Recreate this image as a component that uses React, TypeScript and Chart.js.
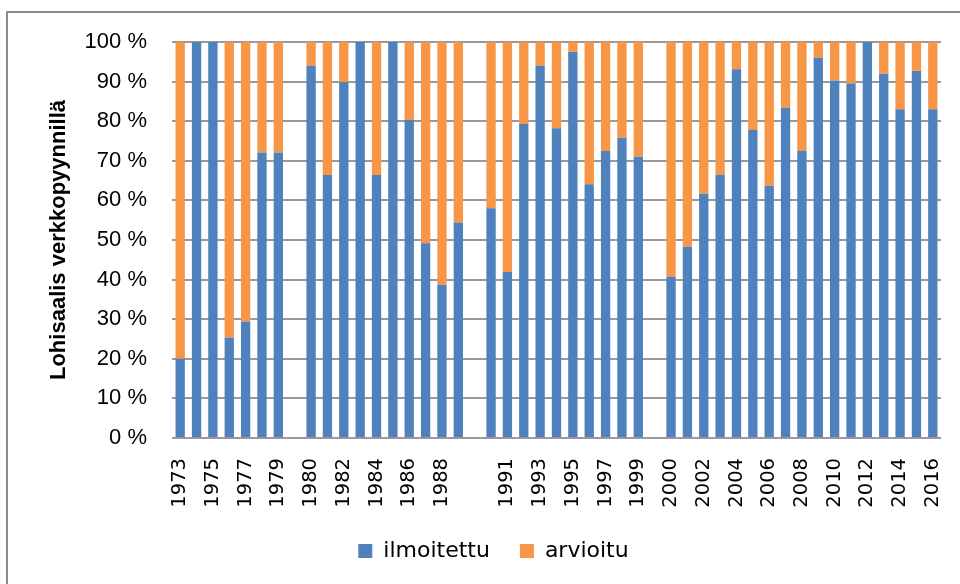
import React, { useEffect, useRef } from "react";
import { Chart, registerables } from "chart.js";

Chart.register(...registerables);

const years: string[] = [
  "1973", "1974", "1975", "1976", "1977", "1978", "1979", "",
  "1980", "1981", "1982", "1983", "1984", "1985", "1986", "1987", "1988", "1989", "",
  "1990", "1991", "1992", "1993", "1994", "1995", "1996", "1997", "1998", "1999", "",
  "2000", "2001", "2002", "2003", "2004", "2005", "2006", "2007", "2008", "2009",
  "2010", "2011", "2012", "2013", "2014", "2015", "2016",
];

const ilmoitettu: (number | null)[] = [
  20, 100, 100, 25.4, 29.4, 72.1, 72.1, null,
  94, 66.4, 89.9, 100, 66.4, 100, 80.3, 49.2, 38.7, 54.4, null,
  58, 41.9, 79.3, 94, 78.2, 97.5, 64.1, 72.5, 75.8, 71, null,
  40.7, 48.3, 61.7, 66.5, 93.1, 77.8, 63.7, 83.4, 72.5, 96,
  90.3, 89.5, 100, 92, 83, 92.7, 83,
];

const arvioitu: (number | null)[] = [
  80, 0, 0, 74.6, 70.6, 27.9, 27.9, null,
  6, 33.6, 10.1, 0, 33.6, 0, 19.7, 50.8, 61.3, 45.6, null,
  42, 58.1, 20.7, 6, 21.8, 2.5, 35.9, 27.5, 24.2, 29, null,
  59.3, 51.7, 38.3, 33.5, 6.9, 22.2, 36.3, 16.6, 27.5, 4,
  9.7, 10.5, 0, 8, 17, 7.3, 17,
];

const seriesNames = ["ilmoitettu", "arvioitu"];
const yTitle = "Lohisaalis verkkopyynnillä";

const frame = {
  id: "frame",
  beforeDraw(chart: any) {
    const ctx = chart.ctx;
    ctx.save();
    ctx.fillStyle = "#ffffff";
    ctx.fillRect(0, 0, chart.width, chart.height);
    ctx.strokeStyle = "#8c8c8c";
    ctx.lineWidth = 2;
    ctx.beginPath();
    ctx.moveTo(7, chart.height + 5);
    ctx.lineTo(7, 12);
    ctx.lineTo(chart.width + 5, 12);
    ctx.stroke();
    ctx.restore();
  },
};

export default function App() {
  const ref = useRef<HTMLCanvasElement>(null);

  useEffect(() => {
    if (!ref.current) return;
    const chart = new Chart(ref.current, {
      type: "bar",
      data: {
        labels: years,
        datasets: [
          {
            label: seriesNames[0],
            data: ilmoitettu,
            backgroundColor: "#4F81BD",
            barPercentage: 0.57,
            categoryPercentage: 1,
          },
          {
            label: seriesNames[1],
            data: arvioitu,
            backgroundColor: "#F79646",
            barPercentage: 0.57,
            categoryPercentage: 1,
          },
        ],
      },
      options: {
        responsive: false,
        animation: false,
        layout: { padding: { left: 46, right: 19, top: 42, bottom: 12 } },
        plugins: {
          legend: {
            position: "bottom",
            labels: {
              boxWidth: 14,
              boxHeight: 14,
              padding: 30,
              color: "#000",
              font: { family: "DejaVu Sans", size: 22 },
            },
          },
          tooltip: { enabled: false },
        },
        scales: {
          x: {
            stacked: true,
            grid: { display: false, drawTicks: false },
            border: { display: false },
            ticks: {
              autoSkip: false,
              maxRotation: 90,
              minRotation: 90,
              padding: 20,
              color: "#000",
              font: { family: "DejaVu Sans", size: 19.5 },
              callback: function (this: any, val: any, index: number) {
                return index % 2 === 0 ? this.getLabelForValue(val) : "";
              },
            },
            afterFit: (s: any) => {
              s.height = 72;
              s.paddingLeft = 0;
              s.paddingRight = 0;
            },
          },
          y: {
            stacked: true,
            min: 0,
            max: 100,
            grid: { color: "#999999", lineWidth: 2, drawTicks: false },
            border: { display: false },
            ticks: {
              stepSize: 10,
              padding: 25,
              color: "#000",
              font: { family: "Liberation Sans", size: 22 },
              callback: (v: any) => v + " %",
            },
            title: {
              display: true,
              text: yTitle,
              color: "#000",
              padding: { top: 0, bottom: 0 },
              font: { family: "Liberation Sans", size: 22, weight: "bold" },
            },
            afterFit: (s: any) => {
              s.width = 126;
            },
          },
        },
      },
      plugins: [frame],
    });
    return () => chart.destroy();
  }, []);

  return (
    <div style={{ position: "absolute", left: 0, top: 0, width: 960, height: 584 }}>
      <canvas ref={ref} width={960} height={584} />
    </div>
  );
}
